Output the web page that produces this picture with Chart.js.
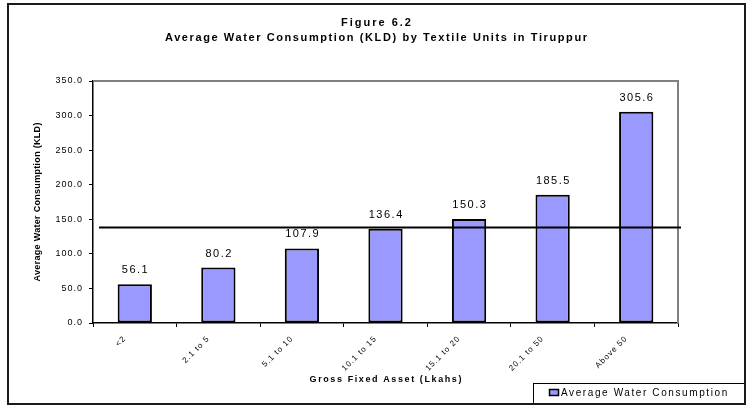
<!DOCTYPE html>
<html>
<head>
<meta charset="utf-8">
<script src="https://cdn.jsdelivr.net/npm/chart.js@4/dist/chart.umd.min.js"></script>
<style>
  html, body { margin: 0; padding: 0; background: #fff; overflow: hidden; }
  #wrap { position: relative; width: 746px; height: 406px; }
  canvas { display: block; }
</style>
</head>
<body>
<div id="wrap"><canvas id="c" width="746" height="406"></canvas></div>
<script>
// Chart data
const categories = ['<2', '2.1 to 5', '5.1 to 10', '10.1 to 15', '15.1 to 20', '20.1 to 50', 'Above 50'];
const consumption = [56.1, 80.2, 107.9, 136.4, 150.3, 185.5, 305.6];
const referenceLevel = 138;
const yTicks = [0, 50, 100, 150, 200, 250, 300, 350];
const seriesName = 'Average Water Consumption';
const titleLines = ['Figure 6.2', 'Average Water Consumption (KLD) by Textile Units in Tiruppur'];
const xTitle = 'Gross Fixed Asset (Lkahs)';
const yTitle = 'Average Water Consumption (KLD)';

const FONT = 'Arial, "Liberation Sans", sans-serif';
const BAR_FILL = '#9999FF';

Chart.defaults.font.family = FONT;
Chart.defaults.color = '#000';

// draw text with letter spacing, aligned on its visible width
function spacedText(ctx, text, x, y, font, spacing, align) {
  ctx.save();
  ctx.font = font;
  ctx.letterSpacing = '0px';
  const w = ctx.measureText(text).width + spacing * (text.length - 1);
  ctx.letterSpacing = spacing + 'px';
  ctx.textAlign = 'left';
  ctx.textBaseline = 'middle';
  let sx = x;
  if (align === 'center') sx = x - w / 2;
  else if (align === 'right') sx = x - w;
  ctx.fillStyle = '#000';
  ctx.fillText(text, sx, y);
  ctx.restore();
}

const framePlugin = {
  id: 'frame',
  beforeDraw(chart) {
    const ctx = chart.ctx;
    ctx.save();
    ctx.fillStyle = '#fff';
    ctx.fillRect(0, 0, chart.width, chart.height);
    ctx.restore();
    ctx.letterSpacing = '1px';
  },
  afterDatasetsDraw(chart) {
    const ctx = chart.ctx;
    const area = chart.chartArea;
    const y = chart.scales.y;

    // plot area outline on the top and right
    ctx.save();
    ctx.strokeStyle = '#808080';
    ctx.lineWidth = 2;
    ctx.beginPath();
    ctx.moveTo(area.left, area.top);
    ctx.lineTo(area.right, area.top);
    ctx.lineTo(area.right, area.bottom);
    ctx.stroke();
    ctx.restore();

    // horizontal reference line
    const ly = y.getPixelForValue(referenceLevel);
    ctx.save();
    ctx.strokeStyle = '#000';
    ctx.lineWidth = 2;
    ctx.beginPath();
    ctx.moveTo(area.left + 6, ly);
    ctx.lineTo(area.right + 3, ly);
    ctx.stroke();
    ctx.restore();

    // value labels above bars
    const meta = chart.getDatasetMeta(0);
    meta.data.forEach((bar, i) => {
      spacedText(ctx, consumption[i].toFixed(1), bar.x, bar.y - 14, '11px ' + FONT, 1.5, 'center');
    });
  },
  afterDraw(chart) {
    const ctx = chart.ctx;
    const area = chart.chartArea;

    // titles
    spacedText(ctx, titleLines[0], 376, 23, 'bold 11px ' + FONT, 2, 'center');
    spacedText(ctx, titleLines[1], 376, 38, 'bold 11px ' + FONT, 1.6, 'center');

    // axis titles
    spacedText(ctx, xTitle, (area.left + area.right) / 2, 380, 'bold 9px ' + FONT, 1.6, 'center');
    ctx.save();
    ctx.translate(38, (area.top + area.bottom) / 2);
    ctx.rotate(-Math.PI / 2);
    spacedText(ctx, yTitle, 0, 0, 'bold 9px ' + FONT, 0.3, 'center');
    ctx.restore();

    // legend box
    const ds = chart.data.datasets[0];
    ctx.save();
    ctx.strokeStyle = '#000';
    ctx.lineWidth = 1;
    ctx.fillStyle = '#fff';
    ctx.fillRect(533, 383, 211, 21);
    ctx.strokeRect(533.5, 383.5, 211, 21);
    ctx.fillStyle = ds.backgroundColor;
    ctx.fillRect(549, 389, 10, 7);
    ctx.lineWidth = 1.5;
    ctx.strokeStyle = ds.borderColor;
    ctx.strokeRect(549.5, 389.5, 9, 6);
    ctx.restore();
    spacedText(ctx, ds.label, 561, 393, '10px ' + FONT, 1.6, 'left');

    // outer frame
    ctx.save();
    ctx.strokeStyle = '#1a1a1a';
    ctx.lineWidth = 2;
    ctx.strokeRect(8, 4, 737, 400);
    ctx.restore();
  }
};

new Chart(document.getElementById('c'), {
  type: 'bar',
  data: {
    labels: categories,
    datasets: [{
      label: seriesName,
      data: consumption,
      backgroundColor: BAR_FILL,
      borderColor: '#000',
      borderWidth: 2,
      borderSkipped: false,
      barPercentage: 0.41,
      categoryPercentage: 1
    }]
  },
  options: {
    responsive: false,
    animation: false,
    devicePixelRatio: 1,
    layout: { padding: { left: 0, right: 68, top: 81, bottom: 0 } },
    plugins: {
      legend: { display: false },
      title: { display: false },
      tooltip: { enabled: false }
    },
    scales: {
      x: {
        grid: { offset: true, drawOnChartArea: false, tickLength: 4, color: '#000', lineWidth: 1 },
        border: { color: '#000', width: 1.5 },
        ticks: {
          autoSkip: false,
          minRotation: 45,
          maxRotation: 45,
          labelOffset: -10,
          padding: 7,
          color: '#000',
          font: { size: 8 }
        },
        afterFit(scale) { scale.height = 83; }
      },
      y: {
        min: 0,
        max: 350,
        afterBuildTicks(scale) { scale.ticks = yTicks.map(v => ({ value: v })); },
        grid: { drawOnChartArea: false, tickLength: 4, color: '#000', lineWidth: 1 },
        border: { color: '#000', width: 1.5 },
        ticks: {
          padding: 6,
          color: '#000',
          font: { size: 9 },
          callback: v => Number(v).toFixed(1)
        },
        afterFit(scale) { scale.width = 93; }
      }
    }
  },
  plugins: [framePlugin]
});
</script>
</body>
</html>
